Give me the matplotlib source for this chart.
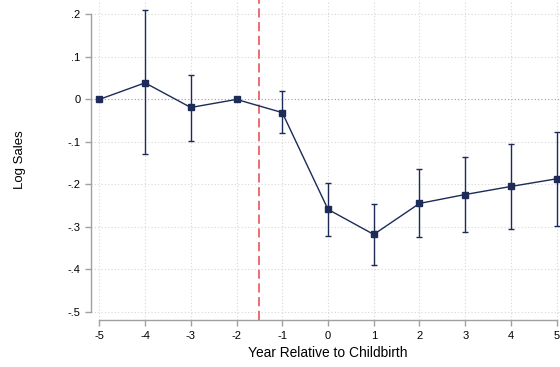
import matplotlib
matplotlib.use("Agg")
import matplotlib.pyplot as plt
import numpy as np

# event-study estimates
years = [-5, -4, -3, -2, -1, 0, 1, 2, 3, 4, 5]
coef = [0.0, 0.039, -0.019, 0.0, -0.031, -0.259, -0.318, -0.245, -0.224, -0.205, -0.187]
ci_hi = [0.0, 0.211, 0.058, 0.0, 0.020, -0.198, -0.247, -0.164, -0.136, -0.105, -0.076]
ci_lo = [0.0, -0.129, -0.097, 0.0, -0.079, -0.321, -0.390, -0.324, -0.313, -0.306, -0.298]
yticks = [0.2, 0.1, 0.0, -0.1, -0.2, -0.3, -0.4, -0.5]
ytick_labels = [".2", ".1", "0", "-.1", "-.2", "-.3", "-.4", "-.5"]

plt.rcParams['font.family'] = ['Liberation Sans', 'DejaVu Sans']

navy = "#1c2b57"
W, H = 560, 367
fig = plt.figure(figsize=(W / 100, H / 100), dpi=100)

# axes placed in pixels: left spine at x=90.7, bottom spine at y=320.3
left, bottom, right, top = 90.7, 320.3, 560, 0
ax = fig.add_axes([left / W, 1 - bottom / H, (right - left) / W, (bottom - top) / H])

px_x = 45.74   # pixels per year
px_y = 424.6   # pixels per 1.0 log unit
ax.set_xlim(-5 - (99.3 - left) / px_x, 5 + (right - 556.7) / px_x)
ax.set_ylim(-0.5 - (bottom - 311.7) / px_y, 0.2 + (14.5 - top) / px_y)

# grid
for x in years:
    ax.axvline(x, color="#d6d6d6", lw=0.8, ls=(0, (1, 2)), zorder=0)
for y in yticks:
    if y != 0:
        ax.axhline(y, color="#d6d6d6", lw=0.8, ls=(0, (1, 2)), zorder=0)
ax.axhline(0, color="#e87a7a", lw=0.8, ls=(0, (1, 2)), zorder=1)
ax.axvline(-1.5, color="#e8464a", lw=1.1, ls=(0, (6, 3)), zorder=1)

coef = np.array(coef)
err = np.array([coef - np.array(ci_lo), np.array(ci_hi) - coef])
has_ci = err.sum(axis=0) > 0
ax.errorbar(np.array(years)[has_ci], coef[has_ci], yerr=err[:, has_ci],
            fmt="none", ecolor=navy, elinewidth=1.0, capsize=2.0, capthick=1.0, zorder=2)
ax.plot(years, coef, color=navy, lw=1.0, marker="s", markersize=5,
        markerfacecolor=navy, markeredgecolor=navy, zorder=3, clip_on=False)

for s in ["top", "right"]:
    ax.spines[s].set_visible(False)
for s in ["left", "bottom"]:
    ax.spines[s].set_color("#a0a0a0")
    ax.spines[s].set_linewidth(1.0)
ax.spines["left"].set_bounds(-0.5, 0.2)
ax.spines["bottom"].set_bounds(-5, 5)

ax.set_xticks(years)
ax.set_xticklabels([str(y) for y in years])
ax.set_yticks(yticks)
ax.set_yticklabels(ytick_labels)
ax.tick_params(axis="both", colors="#a0a0a0", labelcolor="black", labelsize=8,
               length=4, width=1.0)

fig.text(20 / W, 1 - 160 / H, "Log Sales", rotation=90, ha="center", va="center", fontsize=9.5)
fig.text(328 / W, 1 - 353 / H, "Year Relative to Childbirth", ha="center", va="center", fontsize=9.9)

fig.savefig("out.png", dpi=100)
